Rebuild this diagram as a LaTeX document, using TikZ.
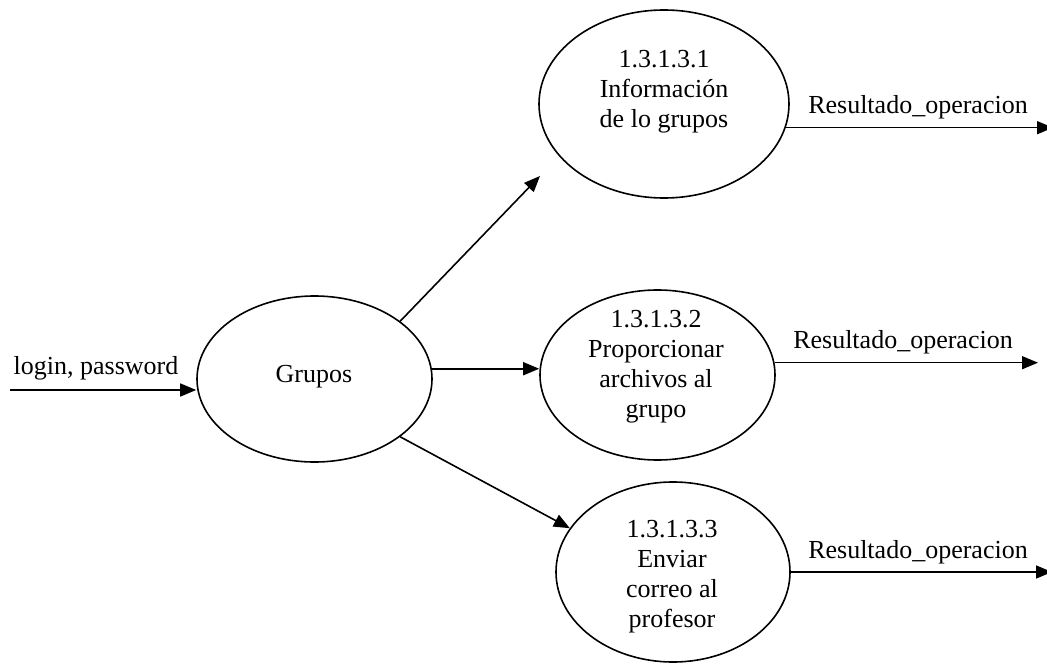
\documentclass[tikz,border=0pt]{standalone}
\usepackage{fontspec}
\setmainfont{Liberation Serif}
\usetikzlibrary{shapes.geometric,arrows.meta}

\begin{document}
\begin{tikzpicture}[x=1pt,y=-1pt,
  proc/.style={ellipse,draw,line width=1.6pt,inner sep=0pt},
  txt/.style={align=center,inner sep=0pt,font=\fontsize{26}{30}\selectfont},
  flow/.style={line width=1.6pt,-{Triangle[length=16pt,width=13pt]}}]
  \useasboundingbox (0,0) rectangle (1047,666);

  % processes
  \node[proc,minimum width=235pt,minimum height=166pt] (grp) at (314.5,379) {};
  \node[proc,minimum width=250pt,minimum height=188pt] (p1) at (664,104) {};
  \node[proc,minimum width=235pt,minimum height=170pt] (p2) at (657.5,375) {};
  \node[proc,minimum width=234pt,minimum height=180pt] (p3) at (673,572) {};

  % process captions
  \node[txt] (grpt) at (314,377) {Grupos};
  \node[txt] (p1t) at (664,92) {1.3.1.3.1\\Información\\de lo grupos};
  \node[txt] (p2t) at (656,367) {1.3.1.3.2\\Proporcionar\\archivos al\\grupo};
  \node[txt] (p3t) at (672,577) {1.3.1.3.3\\Enviar\\correo al\\profesor};

  % free ends of flows
  \coordinate (src) at (10,390);
  \coordinate (p1in) at (540,176);
  \coordinate (out1) at (1053,128);
  \coordinate (out2) at (1038,362);
  \coordinate (out3) at (1052,572);

  % input flow
  \draw[flow] (src) -- (src -| grp.west);
  \node[txt] (lin) at (96,368) {login, password};

  % flows to sub-processes
  \draw[flow] (grp.34.6) -- (p1in);
  \draw[flow] (grp.5.9) -- (grp.5.9 -| p2.west);
  \draw[flow] (grp.-34) -- (p3.157);

  % output flows
  \draw[flow] (p1.-11) -- (p1.-11 -| out1);
  \draw[flow] (p2.6.3) -- (p2.6.3 -| out2);
  \draw[flow] (p3.east) -- (out3);
  \node[txt] (r1) at (918,107) {Resultado\_operacion};
  \node[txt] (r2) at (903,342) {Resultado\_operacion};
  \node[txt] (r3) at (918,552) {Resultado\_operacion};
\end{tikzpicture}
\end{document}
